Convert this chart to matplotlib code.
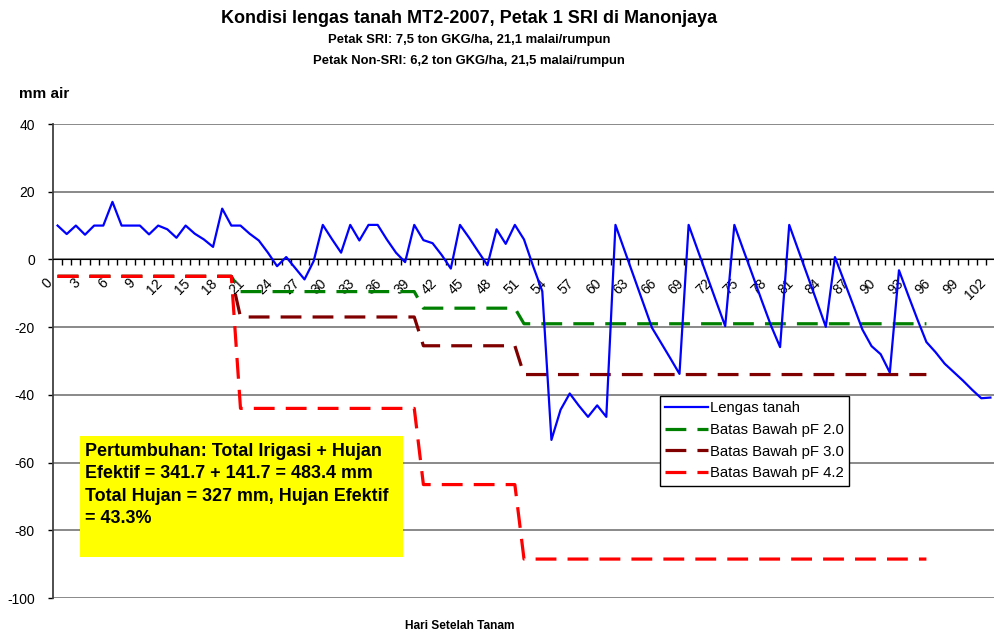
import numpy as np
import matplotlib
matplotlib.use("Agg")
import matplotlib.pyplot as plt
import matplotlib.transforms as mtransforms
from matplotlib.patches import Rectangle

plt.rcParams['font.family'] = ['Liberation Sans', 'DejaVu Sans']
plt.rcParams['lines.scale_dashes'] = False
plt.rcParams['axes.unicode_minus'] = False

# ---- data ----
days = np.arange(0, 103)
lengas = [10, 7.5, 10, 7.3, 10, 10, 17, 10, 10, 10,
          7.4, 10, 8.9, 6.4, 10, 7.6, 5.9, 3.7, 15, 10,
          10, 7.6, 5.6, 2, -2, 0.7, -2.6, -5.9, -0.5, 10.2,
          6, 2, 10.2, 5.6, 10.2, 10.2, 5.9, 2, -0.8, 10.2,
          5.7, 4.8, 1.3, -2.7, 10.2, 6.4, 2.3, -1.7, 8.9, 4.6,
          10.2, 5.9, -2, -9.4, -53.3, -44.4, -39.6, -43.2, -46.5, -43.1,
          -46.5, 10.2, 2.6, -5, -12.6, -20.2, -24.7, -29.2, -33.8, 10.2,
          2.7, -4.8, -12.3, -19.7, 10.2, 2.7, -4.7, -12.2, -19.5, -25.9,
          10.2, 2.7, -4.8, -12.3, -19.9, 0.7, -6.4, -13.5, -20.7, -25.6,
          -28, -33.4, -3.2, -10.5, -17.6, -24.4, -27.4, -30.8, -33.3, -35.8,
          -38.5, -41, -40.8]

# lower limits: one level per growth stage, stages start at these days
batas_days = np.arange(0, 96)
stage_edges = [0, 20, 40, 51, 96]
pf20_levels = [-5, -9.5, -14.4, -19]
pf30_levels = [-5, -17, -25.5, -34]
pf42_levels = [-5, -44, -66.5, -88.5]


def expand(levels):
    out = []
    for i, lv in enumerate(levels):
        out += [lv] * (stage_edges[i + 1] - stage_edges[i])
    return out


pf20 = expand(pf20_levels)
pf30 = expand(pf30_levels)
pf42 = expand(pf42_levels)

W, H = 995, 634
fig = plt.figure(figsize=(W / 100, H / 100), dpi=100)
ax = fig.add_axes([53 / W, (H - 598) / H, (W - 53) / W, 474 / H])

dash = (15, 8)
ax.plot(days, lengas, color="#0000FF", lw=1.6, label="Lengas tanah", zorder=5)
ax.plot(batas_days, pf20, color="#008000", lw=2.3, dashes=dash,
        label="Batas Bawah pF 2.0", zorder=3)
ax.plot(batas_days, pf30, color="#800000", lw=2.3, dashes=dash,
        label="Batas Bawah pF 3.0", zorder=3)
ax.plot(batas_days, pf42, color="#FF0000", lw=2.3, dashes=dash,
        label="Batas Bawah pF 4.2", zorder=4)

ax.set_xlim(-0.5, -0.5 + (W - 53) / 9.17)
ax.set_ylim(-100, 40)
ax.set_yticks(np.arange(-100, 41, 20))
ax.yaxis.grid(True, color="#808080", lw=1.3)
ax.set_axisbelow(True)

for s in ["top", "right"]:
    ax.spines[s].set_visible(False)
ax.spines["bottom"].set_position(("data", 0))
ax.spines["bottom"].set_color("black")
ax.spines["left"].set_color("#404040")
ax.spines["left"].set_linewidth(1.3)

ax.tick_params(axis="y", direction="out", length=3.5, width=1,
               labelsize=10, pad=9.5)
ax.set_xticks(np.arange(0, 103, 3))
ax.set_xticks(np.arange(0.5, 103, 1), minor=True)
ax.tick_params(axis="x", which="major", length=0, pad=15.5, labelsize=10)
ax.tick_params(axis="x", which="minor", direction="out", length=4, width=1)
offset = mtransforms.ScaledTranslation(-0.07, 0, fig.dpi_scale_trans)
for lab in ax.get_xticklabels():
    lab.set_rotation(45)
    lab.set_rotation_mode("anchor")
    lab.set_ha("right")
    lab.set_va("center")
    lab.set_transform(lab.get_transform() + offset)

leg = ax.legend(loc="upper left", bbox_to_anchor=(660 / W, 1 - 396 / H),
                bbox_transform=fig.transFigure, fontsize=10.7, frameon=True,
                fancybox=False, edgecolor="black", framealpha=1,
                handlelength=2.9, handletextpad=0.1, borderpad=0.35,
                labelspacing=0.52, borderaxespad=0)
leg.get_frame().set_linewidth(1)

# yellow note box
fig.patches.append(Rectangle((80 / W, 1 - 557 / H), 323 / W, 121 / H,
                             transform=fig.transFigure, facecolor="#FFFF00",
                             edgecolor="none", zorder=10))
fig.text(85 / W, 1 - 443 / H,
         "Pertumbuhan: Total Irigasi + Hujan\n"
         "Efektif = 341.7 + 141.7 = 483.4 mm\n"
         "Total Hujan = 327 mm, Hujan Efektif\n"
         "= 43.3%",
         fontsize=12.9, fontweight="bold", va="top", ha="left",
         linespacing=1.42, zorder=11)

fig.text(469 / W, 1 - 23 / H,
         "Kondisi lengas tanah MT2-2007, Petak 1 SRI di Manonjaya",
         fontsize=13, fontweight="bold", ha="center", va="baseline")
fig.text(469 / W, 1 - 43 / H,
         "Petak SRI: 7,5 ton GKG/ha, 21,1 malai/rumpun",
         fontsize=9.4, fontweight="bold", ha="center", va="baseline")
fig.text(469 / W, 1 - 64 / H,
         "Petak Non-SRI: 6,2 ton GKG/ha, 21,5 malai/rumpun",
         fontsize=9.4, fontweight="bold", ha="center", va="baseline")
fig.text(19 / W, 1 - 98 / H, "mm air", fontsize=11, fontweight="bold",
         ha="left", va="baseline")
fig.text(460 / W, 1 - 629 / H, "Hari Setelah Tanam", fontsize=8.6,
         fontweight="bold", ha="center", va="baseline")

fig.savefig("out.png", dpi=100)
